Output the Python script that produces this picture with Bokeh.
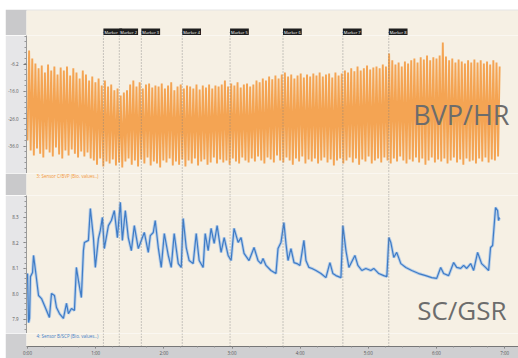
import numpy as np
from bokeh.plotting import figure
from bokeh.layouts import column, row
from bokeh.models import Range1d, FixedTicker, Label, Span, Spacer
from bokeh.embed import file_html
from bokeh.resources import INLINE

# ---------------- data ----------------
BVP_DT = 1.39  # seconds between samples (trough, peak, trough, peak ...)
BVP_PEAKS = [
    -1.2, -4.1,
    -5.9, -7.7, -6.7, -9.2, -6.3, -8.5, -7.0, -9.9, -7.4,
    -8.5, -7.0, -10.3, -7.7, -9.2, -11.4, -8.5, -9.9, -12.1, -10.7,
    -12.8, -11.4, -13.9, -12.1, -14.3, -13.6, -15.7, -15.0, -17.6, -16.5,
    -15.7, -13.6, -12.1, -14.3, -12.8, -15.0, -13.6, -13.2, -14.7, -13.9,
    -14.3, -13.2, -15.0, -13.9, -12.8, -15.7, -14.3, -13.6, -15.0, -13.9,
    -14.3, -15.0, -13.6, -15.4, -13.9, -14.7, -13.6, -15.0, -13.9, -14.3,
    -13.6, -12.1, -14.3, -13.2, -13.9, -12.8, -14.7, -13.6, -13.2, -14.3,
    -13.6, -12.1, -12.8, -11.4, -12.1, -10.7, -11.7, -10.3, -11.4, -9.9,
    -9.2, -10.7, -9.9, -11.4, -10.3, -9.6, -11.0, -9.9, -10.7, -9.6,
    -10.3, -9.2, -10.7, -9.9, -9.6, -11.0, -9.2, -10.3, -9.6, -8.5,
    -9.2, -7.7, -8.8, -7.0, -8.5, -7.7, -6.7, -8.1, -7.4, -7.0,
    -7.7, -6.3, -7.0, -2.3, -4.8, -6.3, -5.6, -7.0, -5.2, -5.9,
    -4.8, -4.1, -5.6, -3.7, -4.5, -3.0, -4.8, -3.7, -4.1, -3.0,
    1.7, -3.4, -4.8, -4.1, -5.6, -4.5, -5.2, -5.9, -4.8, -5.6,
    -4.5, -5.6, -4.8, -5.9, -5.2, -6.3, -4.8, -5.6, -7.0,
]
BVP_TROUGHS = [
    -33.9, -37.6, -39.4, -36.8, -38.7, -40.1, -37.2, -38.3, -39.7, -36.5,
    -39.0, -40.5, -37.6, -39.4, -37.2, -38.7, -40.1, -37.9, -39.7, -38.3, -40.5,
    -41.2, -42.7, -40.5, -43.4, -41.6, -42.3, -40.8, -43.0, -41.9, -43.7,
    -41.6, -40.5, -42.7, -41.2, -43.4, -40.8, -42.3, -40.1, -43.0, -41.6,
    -42.3, -43.7, -41.2, -41.9, -40.5, -43.0, -41.6, -42.7, -40.8, -43.4,
    -41.2, -42.3, -40.5, -43.0, -41.6, -40.8, -42.7, -41.9, -40.1, -42.3,
    -40.8, -41.9, -41.2, -42.7, -40.5, -41.6, -42.3, -40.1, -41.2, -41.9,
    -40.5, -41.6, -39.7, -41.2, -42.3, -40.1, -40.8, -41.9, -39.4, -41.2,
    -41.9, -40.1, -41.2, -42.7, -40.5, -41.6, -39.7, -42.3, -40.8, -41.6,
    -40.5, -42.3, -41.2, -40.1, -41.9, -40.8, -43.0, -41.2, -40.5, -42.3,
    -41.2, -40.1, -41.9, -40.5, -42.7, -40.8, -41.6, -39.7, -42.3, -41.2,
    -40.5, -41.9, -40.1, -41.2, -42.3, -40.5, -41.6, -39.7, -41.2, -42.3,
    -40.8, -41.6, -40.1, -41.9, -40.5, -42.7, -41.2, -40.1, -41.9, -40.8,
    -41.6, -40.5, -42.3, -41.2, -40.1, -41.9, -40.8, -42.7, -40.5, -41.6,
    -41.2, -42.3, -40.5, -41.6, -40.1, -41.9, -40.8, -41.2, -39.7,
]

SC_T = [
    0, 0.9, 1.8, 2.6, 4.4, 5.3, 7.0, 9.7, 12.3, 14.9,
    19.3, 21.1, 23.7, 25.5, 28.1, 31.6, 34.3, 36.0, 38.7, 41.3,
    43.0, 44.8, 47.4, 49.2, 50.1, 53.6, 55.3, 58.0, 59.7, 62.4,
    64.1, 65.9, 67.6, 71.2, 73.8, 76.4, 79.1, 81.7, 83.5, 86.1,
    88.7, 91.4, 94.0, 97.5, 100.2, 102.8, 106.3, 108.1, 110.7, 112.4,
    115.1, 117.7, 120.4, 123.9, 126.5, 129.1, 132.7, 135.3, 137.0, 139.7,
    142.3, 145.8, 148.5, 151.1, 154.6, 156.4, 159.0, 161.6, 164.3, 166.9,
    170.4, 173.1, 176.6, 179.2, 181.8, 185.4, 188.0, 190.6, 195.0, 199.4,
    202.9, 205.5, 207.3, 209.9, 214.3, 218.7, 220.5, 223.1, 225.7, 227.5,
    229.3, 231.9, 234.6, 237.2, 239.8, 243.3, 245.1, 247.7, 250.4, 253.9,
    258.3, 262.7, 266.2, 268.8, 271.5, 275.9, 277.6, 280.3, 282.9, 288.2,
    290.8, 294.3, 297.8, 302.2, 304.8, 309.2, 313.6, 316.3, 318.1, 319.8,
    322.4, 325.0, 328.6, 333.0, 338.2, 344.4, 350.5, 355.8, 360.2, 363.7,
    366.3, 370.7, 375.1, 377.8, 381.3, 383.9, 386.6, 390.1, 392.7, 396.2,
    399.7, 403.2, 405.9, 407.6, 409.4, 412.0, 413.8, 414.6, 415.5,
]
SC_V = [
    8.079, 7.887, 7.903, 8.067, 8.083, 8.150, 8.091, 7.993, 7.981, 7.954,
    7.907, 8.001, 7.993, 7.946, 7.922, 7.903, 7.962, 7.922, 7.942, 7.934,
    8.103, 8.052, 7.985, 8.169, 8.201, 8.209, 8.334, 8.220, 8.103, 8.216,
    8.248, 8.299, 8.177, 8.267, 8.287, 8.326, 8.220, 8.358, 8.209, 8.326,
    8.220, 8.169, 8.267, 8.177, 8.209, 8.240, 8.162, 8.228, 8.240, 8.287,
    8.181, 8.103, 8.236, 8.150, 8.103, 8.236, 8.118, 8.103, 8.295, 8.181,
    8.130, 8.118, 8.236, 8.130, 8.103, 8.236, 8.169, 8.256, 8.197, 8.267,
    8.162, 8.220, 8.150, 8.130, 8.256, 8.201, 8.220, 8.158, 8.130, 8.181,
    8.130, 8.118, 8.138, 8.111, 8.091, 8.079, 8.177, 8.201, 8.279, 8.197,
    8.130, 8.177, 8.122, 8.118, 8.111, 8.209, 8.130, 8.103, 8.099, 8.091,
    8.079, 8.063, 8.122, 8.079, 8.071, 8.063, 8.267, 8.169, 8.103, 8.150,
    8.111, 8.091, 8.099, 8.091, 8.099, 8.079, 8.071, 8.067, 8.220, 8.201,
    8.142, 8.162, 8.118, 8.103, 8.091, 8.079, 8.071, 8.063, 8.060, 8.103,
    8.079, 8.071, 8.122, 8.103, 8.099, 8.111, 8.099, 8.118, 8.091, 8.162,
    8.118, 8.103, 8.091, 8.181, 8.189, 8.338, 8.326, 8.287, 8.299,
]

MARKER_T = [66.8, 80.8, 100.2, 136.2, 178.3, 224.9, 277.6, 318.0]
MARKER_NAMES = ["Marker 1", "Marker 2", "Marker 3", "Marker 4",
                "Marker 5", "Marker 6", "Marker 7", "Marker 8"]

BVP_TICKS = [-36.0, -26.0, -16.0, -6.2]
BVP_TICK_LABELS = ["-36.0", "-26.0", "-16.0", "-6.2"]
SC_TICKS = [7.9, 8.0, 8.1, 8.2, 8.3]
SC_TICK_LABELS = ["7.9", "8.0", "8.1", "8.2", "8.3"]
TIME_TICKS = [0, 60, 120, 180, 240, 300, 360, 420]
TIME_LABELS = ["0:00", "1:00", "2:00", "3:00", "4:00", "5:00", "6:00", "7:00"]

BVP_NAME = "3: Sensor C/BVP (Bio. values..)"
SC_NAME = "4: Sensor B/SCP (Bio. values..)"

# ---------------- style ----------------
FONT = "Open Sans"
BEIGE = "#f6f0e4"
GUTTER = "#e6e6e8"
DARK = "#c9c9cb"
STRIP = "#cfcfd1"
ORANGE = "#f3973a"
BLUE = "#3f7cc6"
HALO = "#a8c6e8"
BIG = "#6c6c6c"
X_RANGE = (-0.9, 432.2)
BVP_RANGE = (-45.93, 4.25)
SC_RANGE = (7.844, 8.385)
MARKER_LABEL_Y = 0.14
DOT = "1 2"
W = 513
GUT_W = 20

xr = Range1d(*X_RANGE)


def panel(height, y_range, border, top=0, bottom=0, yaxis=False, xaxis=False):
    p = figure(width=W, height=height, x_range=xr, y_range=y_range,
               output_backend="svg", toolbar_location=None,
               x_axis_location="below" if xaxis else None,
               y_axis_location="left" if yaxis else None,
               min_border_left=GUT_W, min_border_right=0,
               min_border_top=top, min_border_bottom=bottom)
    p.background_fill_color = BEIGE
    p.border_fill_color = border
    p.outline_line_color = None
    p.grid.visible = False
    return p


def style_y(p, ticks, labels, minor):
    ax = p.yaxis[0]
    ax.ticker = FixedTicker(ticks=ticks, minor_ticks=minor)
    ax.major_label_overrides = dict(zip(ticks, labels))
    ax.axis_line_color = "#9a9a9a"
    ax.major_tick_line_color = "#777777"
    ax.minor_tick_line_color = "#999999"
    ax.major_tick_in = 0
    ax.major_tick_out = 3
    ax.minor_tick_in = 0
    ax.minor_tick_out = 2
    ax.major_label_text_font = FONT
    ax.major_label_text_font_size = "4.5px"
    ax.major_label_text_color = "#555555"
    ax.major_label_standoff = 5


def marker_spans(p):
    for t in MARKER_T:
        p.add_layout(Span(location=t, dimension="height", line_color="#808080",
                          line_width=0.8, line_dash=DOT))


# A: marker strip
pa = panel(26, Range1d(0, 1), DARK, top=1)
pa.segment(x0=MARKER_T, y0=[MARKER_LABEL_Y] * len(MARKER_T), x1=MARKER_T,
           y1=[0] * len(MARKER_T), line_color="#808080", line_width=0.8, line_dash=DOT)
for t, name in zip(MARKER_T, MARKER_NAMES):
    pa.add_layout(Label(x=t, y=MARKER_LABEL_Y, text=name, text_font=FONT,
                        text_font_size="4px", text_color="white",
                        text_align="left", text_baseline="middle",
                        background_fill_color="#1e1e1e", padding=1))

# B: BVP
pb = panel(138, Range1d(*BVP_RANGE), GUTTER, yaxis=True)
style_y(pb, BVP_TICKS, BVP_TICK_LABELS, list(np.arange(-46, 5, 2.0)))
marker_spans(pb)
bvp = np.column_stack([BVP_TROUGHS, BVP_PEAKS]).ravel()
bvp_t = np.arange(len(bvp)) * BVP_DT
pb.line(bvp_t, bvp, line_color=ORANGE, line_width=1.9, line_alpha=0.85)
pb.add_layout(Label(x=424.3, y=-24.47, text="BVP/HR", text_font=FONT,
                    text_font_size="27px", text_color=BIG,
                    text_align="right", text_baseline="alphabetic"))

# C: middle strip
pc = panel(22, Range1d(0, 1), DARK)
marker_spans(pc)
pc.add_layout(Label(x=7.9, y=0.88, text=BVP_NAME, text_font=FONT,
                    text_font_size="4.5px", text_color=ORANGE,
                    text_baseline="middle"))

# D: SC
pd_ = panel(138, Range1d(*SC_RANGE), GUTTER, yaxis=True)
style_y(pd_, SC_TICKS, SC_TICK_LABELS, list(np.round(np.arange(7.84, 8.40, 0.02), 2)))
marker_spans(pd_)
pd_.line(SC_T, SC_V, line_color=HALO, line_width=3, line_alpha=0.8)
pd_.line(SC_T, SC_V, line_color=BLUE, line_width=1.2)
pd_.add_layout(Label(x=421.7, y=7.938, text="SC/GSR", text_font=FONT,
                     text_font_size="26px", text_color=BIG,
                     text_align="right", text_baseline="middle"))

# E: bottom strip + time axis
pe = panel(25, Range1d(0, 1), STRIP, bottom=10, xaxis=True)
marker_spans(pe)
pe.add_layout(Label(x=7.9, y=0.78, text=SC_NAME, text_font=FONT,
                    text_font_size="4.5px", text_color=BLUE,
                    text_baseline="middle"))
xa = pe.xaxis[0]
xa.ticker = FixedTicker(ticks=TIME_TICKS, minor_ticks=list(range(0, 435, 15)))
xa.major_label_overrides = dict(zip(TIME_TICKS, TIME_LABELS))
xa.axis_line_color = "#777777"
xa.major_tick_line_color = "#777777"
xa.minor_tick_line_color = "#999999"
xa.major_tick_in = 0
xa.major_tick_out = 2
xa.minor_tick_in = 0
xa.minor_tick_out = 1
xa.major_label_standoff = 1
xa.major_label_text_font = FONT
xa.major_label_text_font_size = "4.5px"
xa.major_label_text_color = "#555555"

layout = row(Spacer(width=5, height=358),
             column(Spacer(width=W, height=9), pa, pb, pc, pd_, pe, spacing=0),
             spacing=0)
open("out.html", "w").write(file_html(layout, INLINE))
